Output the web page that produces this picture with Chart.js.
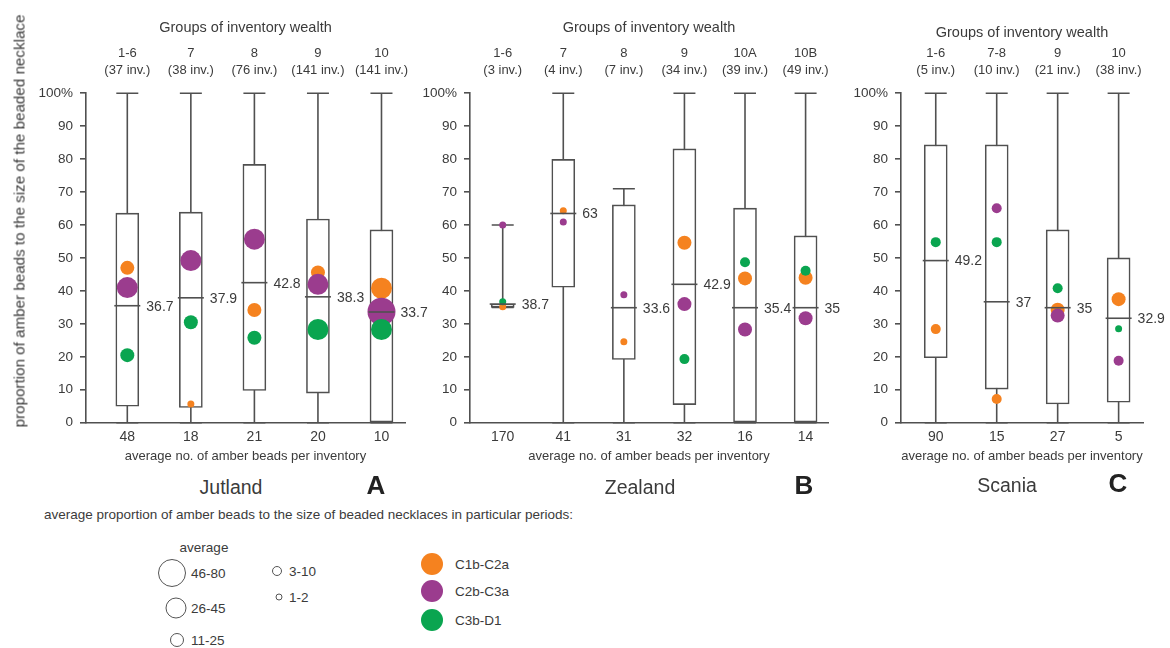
<!DOCTYPE html>
<html>
<head>
<meta charset="utf-8">
<script src="https://cdn.jsdelivr.net/npm/chart.js@4.4.1/dist/chart.umd.min.js"></script>
<style>
body { margin:0; background:#fff; width:1170px; height:648px; position:relative; overflow:hidden;
       font-family:"Liberation Sans", Arial, sans-serif; color:#3b3b3b; }
canvas { position:absolute; top:0; }
.t { position:absolute; white-space:nowrap; transform:translate(-50%,-50%); }
.l { position:absolute; white-space:nowrap; transform:translateY(-50%); }
.dot { position:absolute; border-radius:50%; transform:translate(-50%,-50%); box-sizing:border-box; }
</style>
</head>
<body>
<canvas id="jut" width="440" height="470" style="left:0px"></canvas>
<canvas id="zea" width="450" height="470" style="left:415px"></canvas>
<canvas id="sca" width="320" height="470" style="left:850px"></canvas>

<div class="t" style="left:19px;top:221px;font-size:15.2px;transform:translate(-50%,-50%) rotate(-90deg)">proportion of amber beads to the size of the beaded necklace</div>

<div class="t" style="left:231px;top:487px;font-size:19.5px">Jutland</div>
<div class="t" style="left:376px;top:485px;font-size:26px;font-weight:bold;color:#222">A</div>
<div class="t" style="left:640px;top:487px;font-size:19.5px">Zealand</div>
<div class="t" style="left:804px;top:485px;font-size:26px;font-weight:bold;color:#222">B</div>
<div class="t" style="left:1007px;top:485px;font-size:19.5px">Scania</div>
<div class="t" style="left:1118px;top:483px;font-size:26px;font-weight:bold;color:#222">C</div>

<div class="l" style="left:44px;top:514px;font-size:13.5px">average proportion of amber beads to the size of beaded necklaces in particular periods:</div>
<div class="t" style="left:204px;top:547px;font-size:13.5px">average</div>
<div id="legend"></div>

<script>
// ---- Jutland ----
const jutGroups = ['1-6', '7', '8', '9', '10'];
const jutInv = ['(37 inv.)', '(38 inv.)', '(76 inv.)', '(141 inv.)', '(141 inv.)'];
const jutBeads = ['48', '18', '21', '20', '10'];
const jutLo = [0, 0, 0, 0, 0];
const jutQ1 = [5, 4.6, 9.8, 9, 0];
const jutQ3 = [63.6, 63.9, 78.4, 61.8, 58.5];
const jutHi = [100, 100, 100, 100, 100];
const jutMid = [35.5, 37.9, 42.5, 38.2, 33.6];
const jutMidLabel = ['36.7', '37.9', '42.8', '38.3', '33.7'];
const jutC1b = [47, 5.7, 34.2, 45.6, 40.8];
const jutC1bSize = [3, 1, 3, 3, 4];
const jutC2b = [41, 49.2, 55.7, 42, 33.7];
const jutC2bSize = [4, 4, 4, 4, 5];
const jutC3b = [20.5, 30.5, 25.8, 28.3, 28.3];
const jutC3bSize = [3, 3, 3, 4, 4];

// ---- Zealand ----
const zeaGroups = ['1-6', '7', '8', '9', '10A', '10B'];
const zeaInv = ['(3 inv.)', '(4 inv.)', '(7 inv.)', '(34 inv.)', '(39 inv.)', '(49 inv.)'];
const zeaBeads = ['170', '41', '31', '32', '16', '14'];
const zeaLo = [35, 0, 0, 0, 0, 0];
const zeaQ1 = [35, 41.1, 19.2, 5.5, 0, 0];
const zeaQ3 = [36, 79.9, 66.1, 83.1, 65.1, 56.7];
const zeaHi = [60, 100, 71, 100, 100, 100];
const zeaMid = [36, 63.5, 34.9, 42, 34.9, 34.9];
const zeaMidLabel = ['38.7', '63', '33.6', '42.9', '35.4', '35'];
const zeaC1b = [35.2, 64.3, 24.6, 54.6, 43.8, 44];
const zeaC1bSize = [1, 1, 1, 3, 3, 3];
const zeaC2b = [60, 60.9, 38.8, 36, 28.3, 31.7];
const zeaC2bSize = [1, 1, 1, 3, 3, 3];
const zeaC3b = [36.7, null, null, 19.3, 48.7, 46.1];
const zeaC3bSize = [1, null, null, 2, 2, 2];

// ---- Scania ----
const scaGroups = ['1-6', '7-8', '9', '10'];
const scaInv = ['(5 inv.)', '(10 inv.)', '(21 inv.)', '(38 inv.)'];
const scaBeads = ['90', '15', '27', '5'];
const scaLo = [0, 0, 0, 0];
const scaQ1 = [19.7, 10.2, 5.7, 6.2];
const scaQ3 = [84.3, 84.3, 58.5, 50];
const scaHi = [100, 100, 100, 100];
const scaMid = [49.2, 36.7, 34.9, 31.7];
const scaMidLabel = ['49.2', '37', '35', '32.9'];
const scaC1b = [28.4, 7.2, 34.3, 37.5];
const scaC1bSize = [2, 2, 3, 3];
const scaC2b = [null, 65.1, 32.5, 18.8];
const scaC2bSize = [null, 2, 3, 2];
const scaC3b = [54.8, 54.8, 40.8, 28.5];
const scaC3bSize = [2, 2, 2, 1];

// size classes (legend) and periods
const sizeClasses = ['1-2', '3-10', '11-25', '26-45', '46-80'];
const periods = ['C1b-C2a', 'C2b-C3a', 'C3b-D1'];

const RADIUS = { 1: 3.5, 2: 5, 3: 7, 4: 10.5, 5: 14 };
const COLORS = ['#f5821f', '#9b3c8e', '#0aa550'];
const LINE = '#505050';
const TXT = '#3b3b3b';

Chart.defaults.font.family = '"Liberation Sans", Arial, sans-serif';
Chart.defaults.color = TXT;

function dots(vals, sizes, k) {
	var pts = [];
	for (var i = 0; i < vals.length; i++) {
		if (vals[i] !== null) pts.push({ x: i, y: vals[i], r: RADIUS[sizes[i]] });
	}
	return {
		type: 'bubble', label: periods[k], data: pts, order: 2 - k,
		backgroundColor: COLORS[k], borderWidth: 0, clip: false
	};
}

function boxPlugin(p) {
	return {
		id: 'boxes',
		beforeDatasetsDraw(chart) {
			const ctx = chart.ctx, x = chart.scales.x, y = chart.scales.y;
			ctx.save();
			ctx.strokeStyle = LINE;
			ctx.lineWidth = 1.6;
			for (var i = 0; i < p.lo.length; i++) {
				var px = x.getPixelForValue(i);
				var top = y.getPixelForValue(p.hi[i]), bot = y.getPixelForValue(p.lo[i]);
				ctx.beginPath();
				ctx.moveTo(px, top); ctx.lineTo(px, bot);
				ctx.moveTo(px - 11, top); ctx.lineTo(px + 11, top);
				ctx.moveTo(px - 11, bot); ctx.lineTo(px + 11, bot);
				ctx.stroke();
			}
			ctx.restore();
		},
		afterDatasetsDraw(chart) {
			const ctx = chart.ctx, x = chart.scales.x, y = chart.scales.y;
			ctx.save();
			ctx.strokeStyle = LINE;
			ctx.lineWidth = 1.6;
			ctx.fillStyle = TXT;
			ctx.font = '14px "Liberation Sans", Arial, sans-serif';
			ctx.textBaseline = 'middle';
			for (var i = 0; i < p.mid.length; i++) {
				var px = x.getPixelForValue(i), py = y.getPixelForValue(p.mid[i]);
				ctx.beginPath();
				ctx.moveTo(px - 13, py); ctx.lineTo(px + 13, py);
				ctx.stroke();
				ctx.fillText(p.midLabel[i], px + 19, py + 1);
			}
			ctx.restore();
		}
	};
}

function makePanel(id, p) {
	var idxTicks = function (s) { s.ticks = p.groups.map(function (g, i) { return { value: i }; }); };
	new Chart(document.getElementById(id), {
		type: 'bar',
		data: {
			datasets: [
				dots(p.c3b, p.c3bSize, 2),
				dots(p.c2b, p.c2bSize, 1),
				dots(p.c1b, p.c1bSize, 0),
				{
					type: 'bar', label: 'box', order: 5,
					data: p.q1.map(function (q, i) { return { x: i, y: [q, p.q3[i]] }; }),
					backgroundColor: '#fff', borderColor: LINE, borderWidth: 1.6,
					borderSkipped: false, barThickness: 23, grouped: false
				}
			]
		},
		options: {
			responsive: false,
			animation: false,
			events: [],
			layout: { padding: { left: 0, right: p.padRight, top: 0, bottom: 0 } },
			plugins: { legend: { display: false }, tooltip: { enabled: false } },
			scales: {
				x: {
					type: 'linear', position: 'bottom', min: p.min, max: p.max, offset: false,
					afterBuildTicks: idxTicks,
					afterFit: function (s) { s.height = 47.3; s.paddingLeft = 0; s.paddingRight = 0; },
					grid: { display: false, drawTicks: false, offset: false },
					border: { display: true, color: LINE, width: 1.6 },
					ticks: {
						padding: 6, autoSkip: false, maxRotation: 0, font: { size: 14 },
						callback: function (v) { return p.beads[v]; }
					},
					title: {
						display: true, text: 'average no. of amber beads per inventory',
						font: { size: 13 }, padding: { top: 0, bottom: 6 }
					}
				},
				xTop: {
					type: 'linear', position: 'top', min: p.min, max: p.max, offset: false,
					afterBuildTicks: idxTicks,
					afterFit: function (s) { s.height = 93.2; s.paddingLeft = 0; s.paddingRight = 0; },
					grid: { display: false, drawTicks: false, offset: false },
					border: { display: false },
					ticks: {
						padding: 14.5, autoSkip: false, maxRotation: 0, font: { size: 13, lineHeight: 1.3 },
						callback: function (v) { return [p.groups[v], p.inv[v]]; }
					},
					title: {
						display: true, text: 'Groups of inventory wealth',
						font: { size: 14.5 }, padding: { top: p.titleTop, bottom: 0 }
					}
				},
				y: {
					min: 0, max: 100,
					afterFit: function (s) { s.width = p.yWidth; s.paddingTop = 0; s.paddingBottom = 0; },
					grid: { drawOnChartArea: false, drawTicks: true, tickLength: 6, color: LINE, lineWidth: 1.6 },
					border: { color: LINE, width: 1.6 },
					ticks: {
						stepSize: 10, padding: 7, font: { size: 13.5 },
						callback: function (v) { return v === 100 ? '100%' : v; }
					}
				}
			}
		},
		plugins: [boxPlugin(p)]
	});
}

makePanel('jut', {
	groups: jutGroups, inv: jutInv, beads: jutBeads,
	lo: jutLo, q1: jutQ1, q3: jutQ3, hi: jutHi, mid: jutMid, midLabel: jutMidLabel,
	c1b: jutC1b, c1bSize: jutC1bSize, c2b: jutC2b, c2bSize: jutC2bSize, c3b: jutC3b, c3bSize: jutC3bSize,
	min: -0.65, max: 4.37, yWidth: 86, padRight: 35, titleTop: 19.3
});
makePanel('zea', {
	groups: zeaGroups, inv: zeaInv, beads: zeaBeads,
	lo: zeaLo, q1: zeaQ1, q3: zeaQ3, hi: zeaHi, mid: zeaMid, midLabel: zeaMidLabel,
	c1b: zeaC1b, c1bSize: zeaC1bSize, c2b: zeaC2b, c2bSize: zeaC2bSize, c3b: zeaC3b, c3bSize: zeaC3bSize,
	min: -0.54, max: 5.37, yWidth: 55, padRight: 37, titleTop: 19.3
});
makePanel('sca', {
	groups: scaGroups, inv: scaInv, beads: scaBeads,
	lo: scaLo, q1: scaQ1, q3: scaQ3, hi: scaHi, mid: scaMid, midLabel: scaMidLabel,
	c1b: scaC1b, c1bSize: scaC1bSize, c2b: scaC2b, c2bSize: scaC2bSize, c3b: scaC3b, c3bSize: scaC3bSize,
	min: -0.57, max: 3.40, yWidth: 51, padRight: 27, titleTop: 24
});

// legend: hollow size circles and period colours
var legend = document.getElementById('legend');
var sizeSpots = [
	{ cls: 5, x: 172, y: 573 }, { cls: 4, x: 176, y: 607.5 }, { cls: 3, x: 177, y: 640 },
	{ cls: 2, x: 277, y: 571 }, { cls: 1, x: 279, y: 597 }
];
sizeSpots.forEach(function (s) {
	var d = document.createElement('div');
	d.className = 'dot';
	var r = RADIUS[s.cls];
	d.style.cssText = 'left:' + s.x + 'px;top:' + s.y + 'px;width:' + (2 * r) + 'px;height:' + (2 * r) +
		'px;border:1.5px solid #555';
	legend.appendChild(d);
	var t = document.createElement('div');
	t.className = 'l';
	t.style.cssText = 'left:' + (s.cls >= 3 ? 191 : 289) + 'px;top:' + s.y + 'px;font-size:13.5px';
	t.textContent = sizeClasses[s.cls - 1];
	legend.appendChild(t);
});
periods.forEach(function (name, k) {
	var y = [563.5, 591, 619.5][k];
	var d = document.createElement('div');
	d.className = 'dot';
	d.style.cssText = 'left:432px;top:' + y + 'px;width:22px;height:22px;background:' + COLORS[k];
	legend.appendChild(d);
	var t = document.createElement('div');
	t.className = 'l';
	t.style.cssText = 'left:455px;top:' + y + 'px;font-size:13.5px';
	t.textContent = name;
	legend.appendChild(t);
});
</script>
</body>
</html>
